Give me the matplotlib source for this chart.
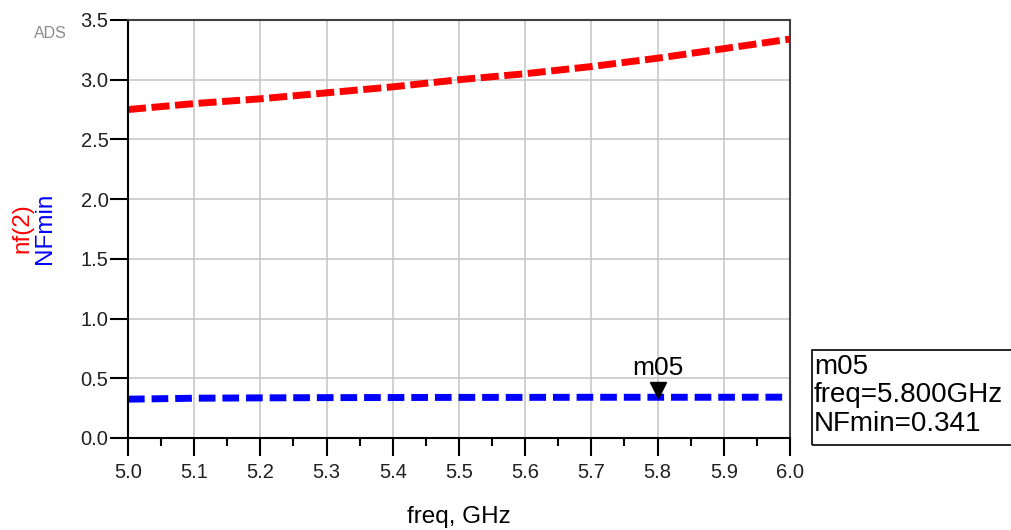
import matplotlib
matplotlib.use('Agg')
import matplotlib.pyplot as plt
import matplotlib.transforms as mtransforms
from matplotlib.patches import Rectangle
import numpy as np

plt.rcParams['font.family'] = ['Liberation Sans', 'DejaVu Sans']

# Data
freq = [5.0, 5.1, 5.2, 5.3, 5.4, 5.5, 5.6, 5.7, 5.8, 5.9, 6.0]
nf2 = [2.75, 2.80, 2.84, 2.89, 2.94, 3.00, 3.05, 3.11, 3.18, 3.26, 3.34]
nfmin = [0.325, 0.333, 0.336, 0.338, 0.339, 0.340, 0.340, 0.341, 0.341, 0.341, 0.342]
marker_freq = 5.8
marker_val = 0.341
marker_name = 'm05'
xticks = np.arange(5.0, 6.01, 0.1)
yticks = np.arange(0.0, 3.51, 0.5)

fig = plt.figure(figsize=(10.11, 5.30), dpi=100)
ax = fig.add_axes([0.1266, 0.1736, 0.6548, 0.7887])

ax.plot(freq, nf2, color='#ff0000', lw=5, dashes=(2.6, 0.8), solid_capstyle='butt')
ax.plot(freq, nfmin, color='#0000ff', lw=5, dashes=(2.4, 1.0), solid_capstyle='butt')

# marker triangle, tip sitting on the trace
off = mtransforms.offset_copy(ax.transData, fig=fig, y=5.5, units='points')
ax.plot([marker_freq], [marker_val], marker='v', ms=11, color='black',
        transform=off, clip_on=False)
ax.annotate(marker_name, (marker_freq, marker_val), xytext=(0, 16),
            textcoords='offset points', ha='center', va='baseline', fontsize=19)

ax.set_xlim(5.0, 6.0)
ax.set_ylim(0.0, 3.5)
ax.set_xticks(xticks)
ax.set_xticklabels([f'{t:.1f}' for t in xticks])
ax.set_xticks(np.arange(5.05, 6.0, 0.1), minor=True)
ax.set_yticks(yticks)
ax.set_yticklabels([f'{t:.1f}' for t in yticks])

ax.grid(True, which='major', color='#c8c8c8', lw=1.2)
ax.set_axisbelow(True)
ax.tick_params(axis='both', which='major', direction='out', length=13, width=1.5,
               labelsize=14.5, colors='black', labelcolor='#202020')
ax.tick_params(axis='x', which='major', pad=5)
ax.tick_params(axis='y', which='major', pad=1)
ax.tick_params(axis='x', which='minor', direction='out', length=5.5, width=1.5)

for side in ['left', 'bottom']:
    ax.spines[side].set_linewidth(1.5)
    ax.spines[side].set_color('black')
for side in ['top', 'right']:
    ax.spines[side].set_linewidth(1.5)
    ax.spines[side].set_color('#404040')

ax.set_xlabel('freq, GHz', fontsize=17.5, labelpad=17)

fig.text(22 / 1011, 1 - 228 / 530, 'nf(2)', rotation=90, color='#ff0000',
         fontsize=17.5, ha='center', va='center')
fig.text(45 / 1011, 1 - 228 / 530, 'NFmin', rotation=90, color='#0000ff',
         fontsize=17.5, ha='center', va='center')
fig.text(50 / 1011, 1 - 33 / 530, 'ADS', color='#8c8c8c', fontsize=11.5,
         ha='center', va='center')

# marker readout box, runs off the right edge like the original
fig.patches.append(Rectangle((812 / 1011, 85 / 530), 0.25, 95 / 530,
                             transform=fig.transFigure, fill=False,
                             edgecolor='black', lw=1.2, clip_on=False))
readout = f'{marker_name}\nfreq={marker_freq:.3f}GHz\nNFmin={marker_val:.3f}'
fig.text(814 / 1011, 1 - 354 / 530, readout, fontsize=20, ha='left', va='top',
         linespacing=1.12)

fig.savefig('out.png', dpi=100)
